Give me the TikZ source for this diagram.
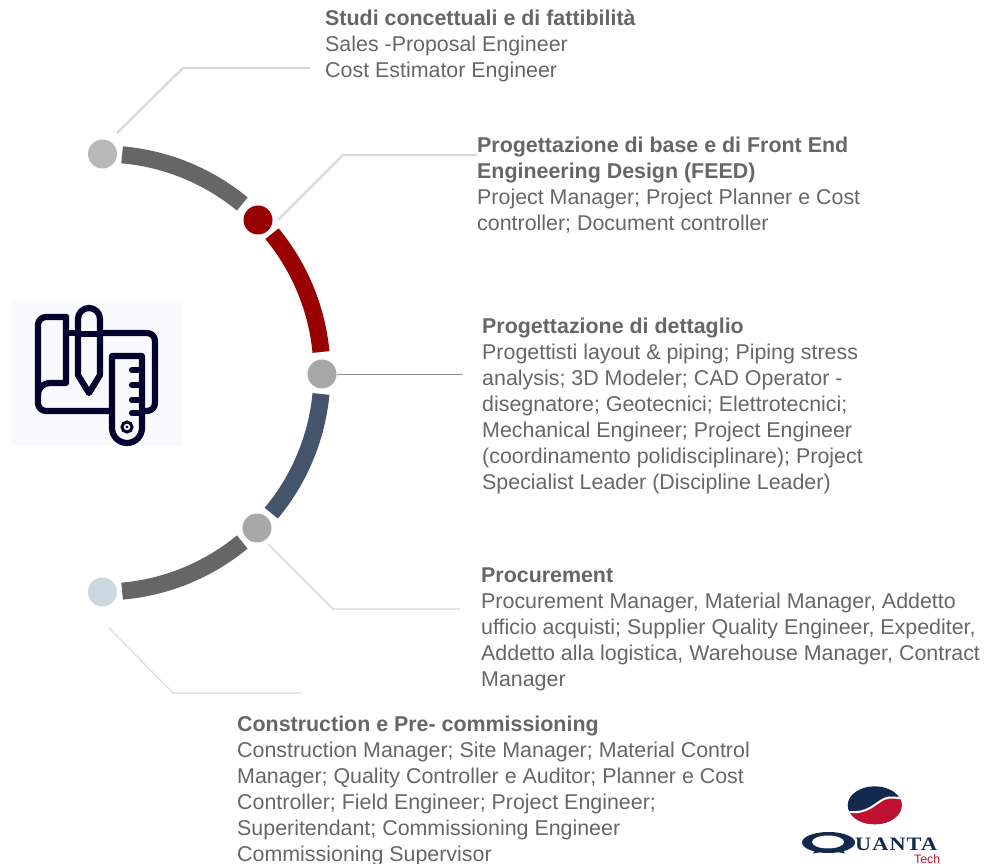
\documentclass[tikz,border=0pt]{standalone}
\usepackage{fontspec}
\setmainfont{Liberation Sans}
\newfontfamily\logofont{Liberation Serif}
\definecolor{txt}{HTML}{666666}
\definecolor{arcgray}{HTML}{666666}
\definecolor{arcred}{HTML}{990000}
\definecolor{arcblue}{HTML}{44546A}
\definecolor{leadgray}{HTML}{D9D9D9}
\definecolor{iconink}{HTML}{03032E}
\definecolor{iconbg}{HTML}{FAFAFE}
\definecolor{logonavy}{HTML}{12284C}
\definecolor{logored}{HTML}{C01030}
\definecolor{dotpale}{HTML}{CBD8DF}
\tikzset{
  x=1pt,y=1pt,
  segment/.style={line width=17pt,line cap=butt},
  dot/.style={circle,minimum size=29pt,inner sep=0pt,fill=#1},
  leadthick/.style={draw=leadgray,line width=2.3pt},
  leadthin/.style={draw=leadgray,line width=1.1pt},
  leaddark/.style={draw=gray!90,line width=0.7pt},
  label/.style={anchor=north west,inner sep=0pt,align=left,text=txt,font=\fontsize{21.4}{26}\selectfont},
  ink/.style={draw=iconink,line width=6.2pt,line join=round,line cap=round},
}
\begin{document}
\begin{tikzpicture}
\useasboundingbox (0,0) rectangle (988,864);
\clip (0,0) rectangle (988,864);
\coordinate (c) at (103,491);
% arc segments
\draw[segment,arcgray] ([shift={(85:219)}]c) arc[start angle=85,end angle=50.5,radius=219];
\draw[segment,arcred] ([shift={(39.5:219)}]c) arc[start angle=39.5,end angle=5.5,radius=219];
\draw[segment,arcblue] ([shift={(-5.5:219)}]c) arc[start angle=-5.5,end angle=-39.8,radius=219];
\draw[segment,arcgray] ([shift={(-50.5:219)}]c) arc[start angle=-50.5,end angle=-85,radius=219];
% dots
\node[dot=black!28] (n1) at (102.5,710) {};
\node[dot=arcred] (n2) at (258,644) {};
\node[dot=black!34] (n3) at (322,490) {};
\node[dot=black!34] (n4) at (257,336) {};
\node[dot=dotpale] (n5) at (102.5,272) {};
% leader lines
\coordinate (a1) at (117,731); \coordinate (b1) at (183,796); \coordinate (e1) at (310,796);
\coordinate (a2) at (278,644); \coordinate (b2) at (343,709); \coordinate (e2) at (477,709);
\coordinate (e3) at (463,490);
\coordinate (a4) at (268,320); \coordinate (b4) at (333,255); \coordinate (e4) at (460,255);
\coordinate (a5) at (109,236); \coordinate (b5) at (173,171); \coordinate (e5) at (301,171);
\draw[leadthick] (a1) -- (b1) -- (e1);
\draw[leadthick] (a2) -- (b2) -- (e2);
\draw[leaddark] (n3.east) -- (e3);
\draw[leadthin] (a4) -- (b4) -- (e4);
\draw[leadthin] (a5) -- (b5) -- (e5);
% labels
\node[label] (t1) at (325,854) {\textbf{Studi concettuali e di fattibilità}\\Sales -Proposal Engineer\\Cost Estimator Engineer};
\node[label] (t2) at (477,727) {\textbf{Progettazione di base e di Front End}\\\textbf{Engineering Design (FEED)}\\Project Manager; Project Planner e Cost\\controller; Document controller};
\node[label] (t3) at (482,546) {\textbf{Progettazione di dettaglio}\\Progettisti layout \& piping; Piping stress\\analysis; 3D Modeler; CAD Operator -\\disegnatore; Geotecnici; Elettrotecnici;\\Mechanical Engineer; Project Engineer\\(coordinamento polidisciplinare); Project\\Specialist Leader (Discipline Leader)};
\node[label] (t4) at (481,296) {\textbf{Procurement}\\Procurement Manager, Material Manager, Addetto\\ufficio acquisti; Supplier Quality Engineer, Expediter,\\Addetto alla logistica, Warehouse Manager, Contract\\Manager};
\node[label] (t5) at (237,148) {\textbf{Construction e Pre- commissioning}\\Construction Manager; Site Manager; Material Control\\Manager; Quality Controller e Auditor; Planner e Cost\\Controller; Field Engineer; Project Engineer;\\Superitendant; Commissioning Engineer\\Commissioning Supervisor};
% icon
\fill[iconbg] (12,418) rectangle (182,562);
\draw[ink,rounded corners=8pt] (66,547) -- (38,547) -- (38,453) -- (110,453);
\draw[ink] (38,469) .. controls (38,477) and (44,481) .. (50,481) -- (66,481) -- (66,547);
\draw[ink] (66,531) -- (78,531);
\draw[ink] (78,545) arc[start angle=180,end angle=0,radius=11] -- (100,489) -- (89,471) -- (78,489) -- cycle;
\draw[ink] (78,530) -- (100,530);
\draw[ink,rounded corners=8pt] (100,531) -- (155,531) -- (155,453) -- (142,453);
\draw[ink] (142,508) -- (112,508) -- (112,436) arc[start angle=180,end angle=360,radius=15] -- cycle;
\draw[ink] (132,494) -- (142,494) (132,479) -- (142,479) (132,464) -- (142,464) (132,451) -- (142,451);
\draw[iconink,line width=3pt] (127,437) circle[radius=5];
\fill[iconink] (127,437) circle[radius=1.5];
% logo
\begin{scope}
\clip (874.7,58.7) ellipse[x radius=27,y radius=19];
\fill[logonavy] (845,35) rectangle (905,85);
\fill[logored] (845,51) .. controls (868,50) and (874,60) .. (884,65) .. controls (890,68) and (897,66) .. (905,65) -- (905,35) -- (845,35) -- cycle;
\draw[white,line width=2pt] (848,52) .. controls (868,50) and (874,60) .. (884,65) .. controls (890,68) and (897,66) .. (905,65);
\end{scope}
\fill[logonavy] (828.5,21.5) ellipse[x radius=26.5,y radius=10.5];
\fill[white] (828,22) ellipse[x radius=16,y radius=6.5];
\fill[logonavy] (813,10.5) .. controls (825,13) and (835,13) .. (845,10.5) -- (842,15) -- (816,15) -- cycle;
\node[inner sep=0pt,anchor=base west,text=logonavy,font=\logofont\bfseries\fontsize{19}{19}\selectfont,xscale=1.17] (logotext) at (855,13) {\addfontfeature{LetterSpace=5}UANTA};
\node[inner sep=0pt,anchor=base west,text=logored,font=\fontsize{12.3}{12.3}\selectfont] (logotech) at (914,0.5) {Tech};
\end{tikzpicture}
\end{document}
